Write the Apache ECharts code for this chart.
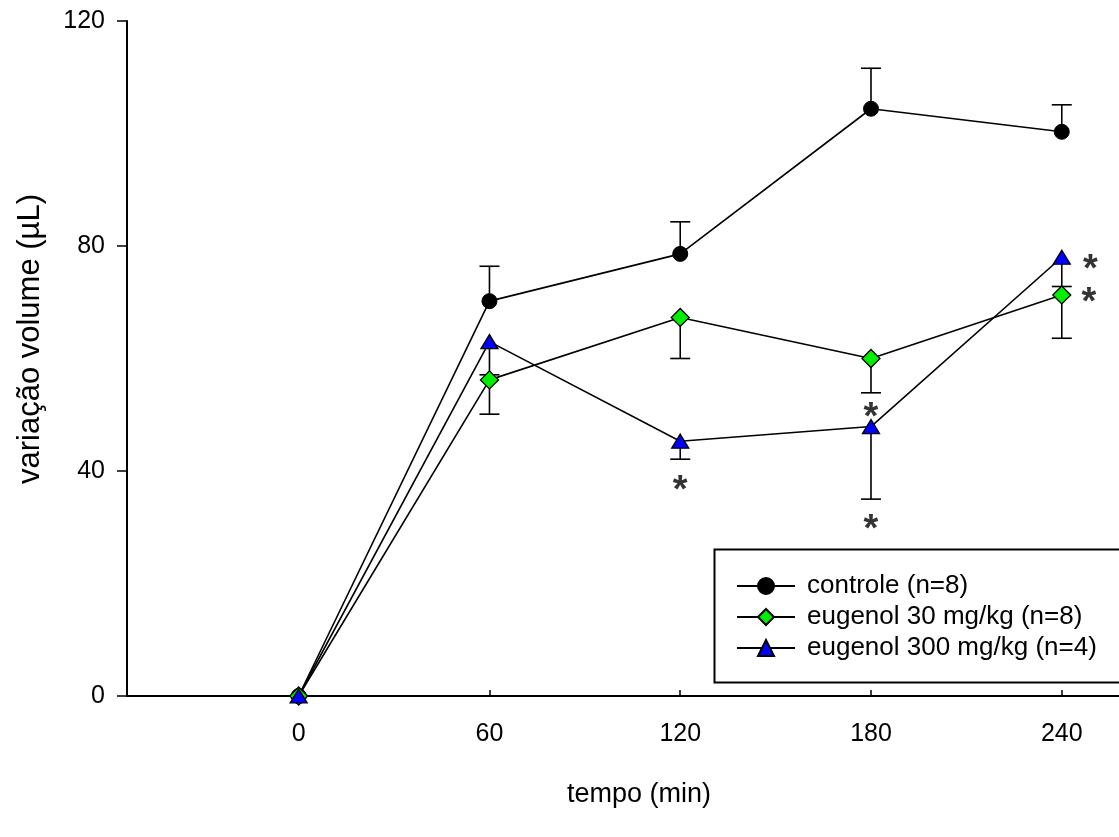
<!DOCTYPE html>
<html>
<head>
<meta charset="utf-8">
<script src="https://cdn.jsdelivr.net/npm/echarts@6/dist/echarts.min.js"></script>
<style>html,body{margin:0;padding:0;background:#fff}#c{width:1119px;height:837px}</style>
</head>
<body>
<div id="c"></div>
<script>
// ---- data ----
var timePoints = [0, 60, 120, 180, 240];
var xTickLabels = [0, 60, 120, 180, 240];
var yTickLabels = [0, 40, 80, 120];

var seriesNames = ['controle (n=8)', 'eugenol 30 mg/kg (n=8)', 'eugenol 300 mg/kg (n=4)'];
var controleMean = [0, 70.2, 78.6, 104.4, 100.3];
var controleErr  = [0, 6.2, 5.7, 7.2, 4.8];      // drawn upward
var eug30Mean    = [0, 56.2, 67.3, 60.0, 71.3];
var eug30Err     = [0, 6.1, 7.3, 6.1, 7.7];      // drawn downward
var eug300Mean   = [0, 63.0, 45.3, 47.9, 78.0];
var eug300Err    = [0, 5.9, 3.2, 12.9, 5.2];     // drawn downward

// significance markers (asterisks) [x, y]
var asteriskPoints = [[120, 38.0], [180, 51.0], [180, 31.0], [249, 77.2], [248.5, 71.4]];

var xTitle = 'tempo (min)';
var yTitle = 'variação volume (µL)';

// ---- build ----
function pairs(means) { return timePoints.map(function (t, i) { return [t, means[i]]; }); }
function errData(means, errs) {
  var out = [];
  timePoints.forEach(function (t, i) { if (errs[i] > 0) out.push([t, means[i], errs[i]]); });
  return out;
}
function errRender(dir) {
  return function (params, api) {
    var x = api.value(0), y = api.value(1), e = api.value(2);
    var p0 = api.coord([x, y]);
    var p1 = api.coord([x, y + dir * e]);
    var st = { stroke: '#000', lineWidth: 1.6 };
    return {
      type: 'group',
      children: [
        { type: 'line', shape: { x1: p0[0], y1: p0[1], x2: p1[0], y2: p1[1] }, style: st },
        { type: 'line', shape: { x1: p1[0] - 10, y1: p1[1], x2: p1[0] + 10, y2: p1[1] }, style: st }
      ]
    };
  };
}
var FONT = 'Liberation Sans, Arial, sans-serif';
var lineStyle = { color: '#000', width: 1.6 };

var chart = echarts.init(document.getElementById('c'), null, { renderer: 'canvas' });
chart.setOption({
  animation: false,
  backgroundColor: '#fff',
  textStyle: { fontFamily: FONT, color: '#000' },
  grid: { left: 127, right: 0, top: 21, bottom: 141, containLabel: false },
  xAxis: {
    type: 'value', min: -54, max: 258,
    splitLine: { show: false },
    axisLine: { onZero: false, lineStyle: { color: '#000', width: 2 } },
    axisTick: { inside: true, length: 6, lineStyle: { color: '#000', width: 1.5 }, customValues: xTickLabels },
    axisLabel: { customValues: xTickLabels, fontSize: 25, color: '#000', fontFamily: FONT, margin: 26 }
  },
  yAxis: {
    type: 'value', min: 0, max: 120, interval: 40,
    splitLine: { show: false },
    axisLine: { onZero: false, lineStyle: { color: '#000', width: 2 } },
    axisTick: { inside: false, length: 10, lineStyle: { color: '#000', width: 1.5 }, customValues: yTickLabels },
    axisLabel: { customValues: yTickLabels, fontSize: 25, color: '#000', fontFamily: FONT, margin: 22 }
  },
  legend: {
    orient: 'vertical', left: 731, top: 568,
    itemWidth: 58, itemHeight: 20, itemGap: 5,
    textStyle: { fontSize: 26, lineHeight: 24, color: '#000', fontFamily: FONT, padding: [0, 0, 0, 7] },
    data: seriesNames
  },
  graphic: [
    { type: 'rect', left: 712, top: 547, shape: { width: 406, height: 133 }, style: { fill: 'none', stroke: '#000', lineWidth: 2 }, z: 1 },
    { type: 'text', x: 30, y: 339, rotation: Math.PI / 2, style: { text: yTitle, fontSize: 31, fontFamily: FONT, fill: '#000', align: 'center', verticalAlign: 'middle' } },
    { type: 'text', x: 639, y: 795, style: { text: xTitle, fontSize: 27, fontFamily: FONT, fill: '#000', align: 'center', verticalAlign: 'middle' } }
  ],
  series: [
    { type: 'custom', renderItem: errRender(1), data: errData(controleMean, controleErr), z: 1, silent: true },
    { type: 'custom', renderItem: errRender(-1), data: errData(eug30Mean, eug30Err), z: 1, silent: true },
    { type: 'custom', renderItem: errRender(-1), data: errData(eug300Mean, eug300Err), z: 1, silent: true },
    {
      name: seriesNames[0], type: 'line', data: pairs(controleMean), z: 3,
      symbol: 'circle', symbolSize: 15,
      itemStyle: { color: '#000', borderColor: '#000', borderWidth: 1 },
      lineStyle: lineStyle
    },
    {
      name: seriesNames[1], type: 'line', data: pairs(eug30Mean), z: 3,
      symbol: 'diamond', symbolSize: 18,
      itemStyle: { color: '#00ee00', borderColor: '#000', borderWidth: 1.3 },
      lineStyle: lineStyle
    },
    {
      name: seriesNames[2], type: 'line', data: pairs(eug300Mean), z: 3,
      symbol: 'triangle', symbolSize: [17, 14],
      itemStyle: { color: '#0000ff', borderColor: '#000', borderWidth: 1.3 },
      lineStyle: lineStyle
    },
    {
      type: 'scatter', data: asteriskPoints, z: 4, silent: true,
      symbol: 'circle', symbolSize: 1, itemStyle: { color: 'rgba(0,0,0,0)' },
      label: { show: true, position: 'inside', formatter: '*', fontSize: 38, fontWeight: 'bold', color: '#000', fontFamily: FONT, offset: [0, 9] }
    }
  ]
});
</script>
</body>
</html>
